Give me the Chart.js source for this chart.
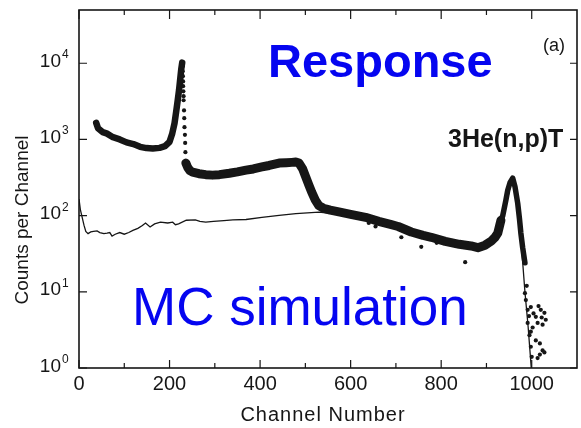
<!DOCTYPE html>
<html>
<head>
<meta charset="utf-8">
<script src="https://cdn.jsdelivr.net/npm/chart.js@4"></script>
<style>
  html, body { margin: 0; padding: 0; background: #fff; }
</style>
</head>
<body>
<canvas id="spectre" width="581" height="428"></canvas>
<script>
// Spectre mesuré (points) : bande basse, chute du pic, bande haute, queue
const respBasCh  = [38, 42, 52, 61, 75, 90, 105, 120, 135, 149, 163, 178, 190, 200, 206, 211, 215, 218, 221, 224, 226, 228];
const respBasVal = [1650, 1400, 1250, 1200, 1070, 1000, 915, 870, 800, 770, 760, 775, 815, 930, 1200, 1630, 2400, 3250, 4450, 6600, 8500, 10200];

const respChuteCh  = [229, 229, 229.5, 230, 230, 230.5, 231, 231, 232, 232.5, 233, 234, 234.5, 235];
const respChuteVal = [9100, 7850, 6760, 5780, 5000, 4280, 3700, 3270, 2400, 1900, 1450, 1150, 900, 680];

const respHautCh  = [236, 240, 245, 251, 265, 280, 295, 310, 332, 350, 369, 385, 404, 420, 442, 458, 470, 479, 486, 494, 501, 508, 514, 522, 530, 540, 555, 574, 600, 633, 662, 690, 705, 734, 760, 778, 809, 840, 866, 881, 897, 910, 919, 925, 932, 936, 943, 947, 952, 958, 963, 969, 973, 976, 980, 985];
const respHautVal = [490, 430, 390, 372, 355, 345, 340, 345, 360, 375, 395, 410, 435, 455, 490, 495, 500, 505, 490, 410, 320, 250, 203, 160, 135, 125, 118, 112, 104, 95, 84, 76, 72, 61, 55, 52, 46, 42, 40, 38, 41, 46, 52, 59, 87, 100, 160, 215, 270, 310, 240, 146, 90, 59, 38, 24];

const respQueueCh  = [985, 987, 989, 991, 991, 994, 995, 998, 998, 998, 1000, 1002, 1004, 1009, 1009, 1013, 1013, 1015, 1018, 1018, 1020, 1022, 1024, 1024, 1028, 1028, 1031];
const respQueueVal = [9.6, 7.8, 12, 5.8, 3.9, 4.8, 2.7, 6.3, 3.0, 1.9, 1.4, 3.4, 5.2, 4.7, 2.3, 3.9, 1.35, 6.5, 2.1, 1.5, 5.8, 4.6, 3.7, 1.7, 5.3, 1.6, 4.3];

const respIsolesCh  = [640, 655, 712, 756, 790, 853];
const respIsolesVal = [80, 72, 52, 39, 44, 24.5];

// Simulation Monte-Carlo (trait fin)
const mcCh  = [0, 3, 7, 11, 15, 20, 26, 32, 40, 46, 55, 62, 68, 73, 80, 90, 100, 110, 119, 130, 140, 147, 157, 167, 180, 196, 207, 213, 220, 237, 257, 267, 280, 297, 320, 340, 369, 404, 442, 479, 530, 600, 700, 800, 880, 920, 940, 955, 965, 975, 985, 992, 999];
const mcVal = [165, 120, 95, 75, 62, 58, 61, 62, 63, 60, 58, 59, 60, 54, 57, 60, 57, 60, 64, 68, 74, 80, 71, 78, 82, 80, 82, 76, 78, 87, 88, 84, 82, 84, 86, 88, 89, 95, 101, 106, 111, 100, 72, 48, 38, 48, 110, 280, 220, 60, 10, 3.5, 1];

// Graduations
const xGraduations = [0, 200, 400, 600, 800, 1000];
const xSousGraduations = [100, 300, 500, 700, 900];
const yExposants = [0, 1, 2, 3, 4];

const pts = (xs, ys) => xs.map((x, i) => ({ x: x, y: ys[i] }));

const BLEU = '#0505f0';
const ENCRE = '#161616';

const cadre = {
  id: 'cadre',
  afterDraw(chart) {
    const ctx = chart.ctx;
    const a = chart.chartArea;
    const sx = chart.scales.x;
    const sy = chart.scales.y;

    ctx.save();
    ctx.strokeStyle = ENCRE;
    ctx.lineWidth = 1.6;
    ctx.strokeRect(a.left, a.top, a.right - a.left, a.bottom - a.top);

    // graduations tournées vers l'intérieur
    ctx.lineWidth = 1.2;
    ctx.beginPath();
    xGraduations.forEach(v => {
      const px = sx.getPixelForValue(v);
      ctx.moveTo(px, a.bottom); ctx.lineTo(px, a.bottom - 8);
      ctx.moveTo(px, a.top); ctx.lineTo(px, a.top + 9);
    });
    xSousGraduations.forEach(v => {
      const px = sx.getPixelForValue(v);
      ctx.moveTo(px, a.bottom); ctx.lineTo(px, a.bottom - 5);
      ctx.moveTo(px, a.top); ctx.lineTo(px, a.top + 5);
    });
    yExposants.forEach(e => {
      const py = sy.getPixelForValue(Math.pow(10, e));
      ctx.moveTo(a.left, py); ctx.lineTo(a.left + 8, py);
      ctx.moveTo(a.right, py); ctx.lineTo(a.right - 7, py);
    });
    ctx.stroke();

    // étiquettes des axes
    ctx.fillStyle = ENCRE;
    ctx.font = '20px "Liberation Sans", Arial, sans-serif';
    ctx.textAlign = 'center';
    ctx.textBaseline = 'alphabetic';
    xGraduations.forEach(v => {
      ctx.fillText(String(v), sx.getPixelForValue(v), 390);
    });

    yExposants.forEach(e => {
      const py = sy.getPixelForValue(Math.pow(10, e));
      ctx.font = '19px "Liberation Sans", Arial, sans-serif';
      ctx.textAlign = 'right';
      ctx.fillText('10', 61, py + 3.5);
      ctx.font = '12px "Liberation Sans", Arial, sans-serif';
      ctx.textAlign = 'left';
      ctx.fillText(String(e), 62, py - 5);
    });

    // titres
    ctx.font = '20px "Liberation Sans", Arial, sans-serif';
    ctx.textAlign = 'center';
    ctx.letterSpacing = '1px';
    ctx.fillText('Channel Number', 323, 421);
    ctx.letterSpacing = '0px';

    ctx.save();
    ctx.translate(28, 220);
    ctx.rotate(-Math.PI / 2);
    ctx.font = '19px "Liberation Sans", Arial, sans-serif';
    ctx.fillText('Counts per Channel', 0, 0);
    ctx.restore();

    // annotations
    ctx.textAlign = 'left';
    ctx.font = '18px "Liberation Sans", Arial, sans-serif';
    ctx.fillText('(a)', 543, 51);

    ctx.font = 'bold 25px "Liberation Sans", Arial, sans-serif';
    ctx.fillText('3He(n,p)T', 448, 147);

    ctx.fillStyle = BLEU;
    ctx.font = 'bold 47px "Liberation Sans", Arial, sans-serif';
    ctx.fillText('Response', 268, 77);

    ctx.font = '53px "Liberation Sans", Arial, sans-serif';
    ctx.fillText('MC simulation', 132, 325);
    ctx.restore();
  }
};

new Chart(document.getElementById('spectre'), {
  type: 'scatter',
  data: {
    datasets: [
      {
        label: 'Response',
        data: pts(respChuteCh, respChuteVal)
          .concat(pts(respQueueCh, respQueueVal))
          .concat(pts(respIsolesCh, respIsolesVal)),
        backgroundColor: ENCRE,
        borderColor: ENCRE,
        pointRadius: 2.1,
        pointBorderWidth: 0,
        order: 1
      },
      {
        label: 'Response (bande basse)',
        data: pts(respBasCh, respBasVal),
        showLine: true,
        borderColor: ENCRE,
        borderWidth: 6.5,
        borderCapStyle: 'round',
        borderJoinStyle: 'round',
        pointRadius: 0,
        order: 2
      },
      {
        label: 'Response (bande haute)',
        data: pts(respHautCh, respHautVal),
        showLine: true,
        borderColor: ENCRE,
        borderWidth: 9,
        borderCapStyle: 'round',
        borderJoinStyle: 'round',
        pointRadius: 0,
        segment: {
          borderWidth: c => c.p0.parsed.x >= 930 ? 5.5 : undefined
        },
        order: 2
      },
      {
        label: 'MC simulation',
        data: pts(mcCh, mcVal),
        showLine: true,
        borderColor: ENCRE,
        borderWidth: 1.3,
        pointRadius: 0,
        order: 3
      }
    ]
  },
  options: {
    responsive: false,
    animation: false,
    devicePixelRatio: 1,
    layout: { padding: { left: 79, top: 10, right: 2, bottom: 60 } },
    plugins: {
      legend: { display: false },
      tooltip: { enabled: false }
    },
    scales: {
      x: { type: 'linear', display: false, min: 0, max: 1100 },
      y: { type: 'logarithmic', display: false, min: 1, max: 50000 }
    }
  },
  plugins: [cadre]
});
</script>
</body>
</html>
